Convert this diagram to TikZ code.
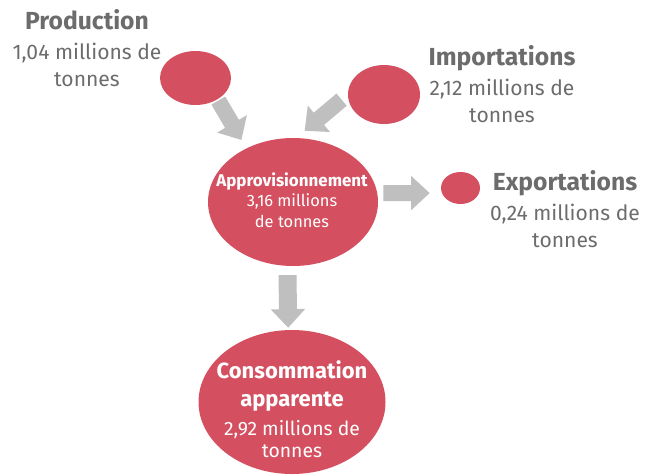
\documentclass[tikz,border=0pt]{standalone}
\usepackage{fontspec}
\setmainfont{Fira Sans}
\usetikzlibrary{shapes.geometric,arrows.meta}
\definecolor{cred}{RGB}{212,80,96}
\definecolor{cgray}{RGB}{108,108,108}
\definecolor{agray}{RGB}{191,191,191}
\begin{document}
\begin{tikzpicture}[x=0.75pt,y=-0.75pt,
  blob/.style={ellipse, fill=cred, draw=none, inner sep=0pt},
  bigarrow/.style={draw=agray, line width=12pt, -{Triangle[length=14pt,width=25pt]}},
  outlabel/.style={text=cgray, align=center, font=\fontsize{15.8}{20.25}\selectfont, anchor=base, inner sep=0pt},
  inlabel/.style={text=white, align=center, anchor=base, inner sep=0pt}
]
\useasboundingbox (0,0) rectangle (648,475);
% ellipses
\node[blob, minimum width=53.25pt, minimum height=40.5pt] (prod) at (195.5,78) {};
\node[blob, minimum width=54pt, minimum height=44.25pt] (imp) at (384,94.5) {};
\node[blob, minimum width=127.5pt, minimum height=96pt] (appro) at (293,202) {};
\node[blob, minimum width=29.25pt, minimum height=24pt] (exp) at (460.5,188) {};
\node[blob, minimum width=140.25pt, minimum height=108pt] (cons) at (292,402) {};
% arrows
\draw[bigarrow, shorten <=1pt, shorten >=7.2pt] (prod.-44) -- (appro.131);
\draw[bigarrow, shorten <=6pt, shorten >=8.1pt] (imp.180) -- (appro.87);
\draw[bigarrow, shorten <=4.5pt, shorten >=9pt] (appro.6) -- (exp.195);
\draw[bigarrow, line width=13.5pt, shorten <=6.75pt, shorten >=1.5pt] (appro.265.5) -- (cons.93.2);
% labels
\node[outlabel] (prodtxt) at (87,86) {{\fontsize{18.5}{20}\selectfont\bfseries Production}\\[2.25pt]1,04 millions de\\tonnes};
\node[outlabel] (imptxt) at (502,122) {{\fontsize{18.5}{20}\selectfont\bfseries Importations}\\[2.25pt]2,12 millions de\\tonnes};
\node[outlabel] (exptxt) at (565,247) {{\fontsize{18.5}{20}\selectfont\bfseries Exportations}\\[2.25pt]0,24 millions de\\tonnes};
\node[inlabel, font=\fontsize{12.3}{15.2}\selectfont] (approtxt) at (292,227) {{\fontsize{12.7}{15}\selectfont\bfseries Approvisionnement}\\3,16 millions\\de tonnes};
\node[inlabel, font=\fontsize{14.5}{16.5}\selectfont] (constxt) at (292,457) {{\fontsize{16.5}{20}\selectfont\bfseries Consommation}\\[4.9pt]{\fontsize{16.5}{20}\selectfont\bfseries apparente}\\[4.7pt]2,92 millions de\\tonnes};
\end{tikzpicture}
\end{document}
